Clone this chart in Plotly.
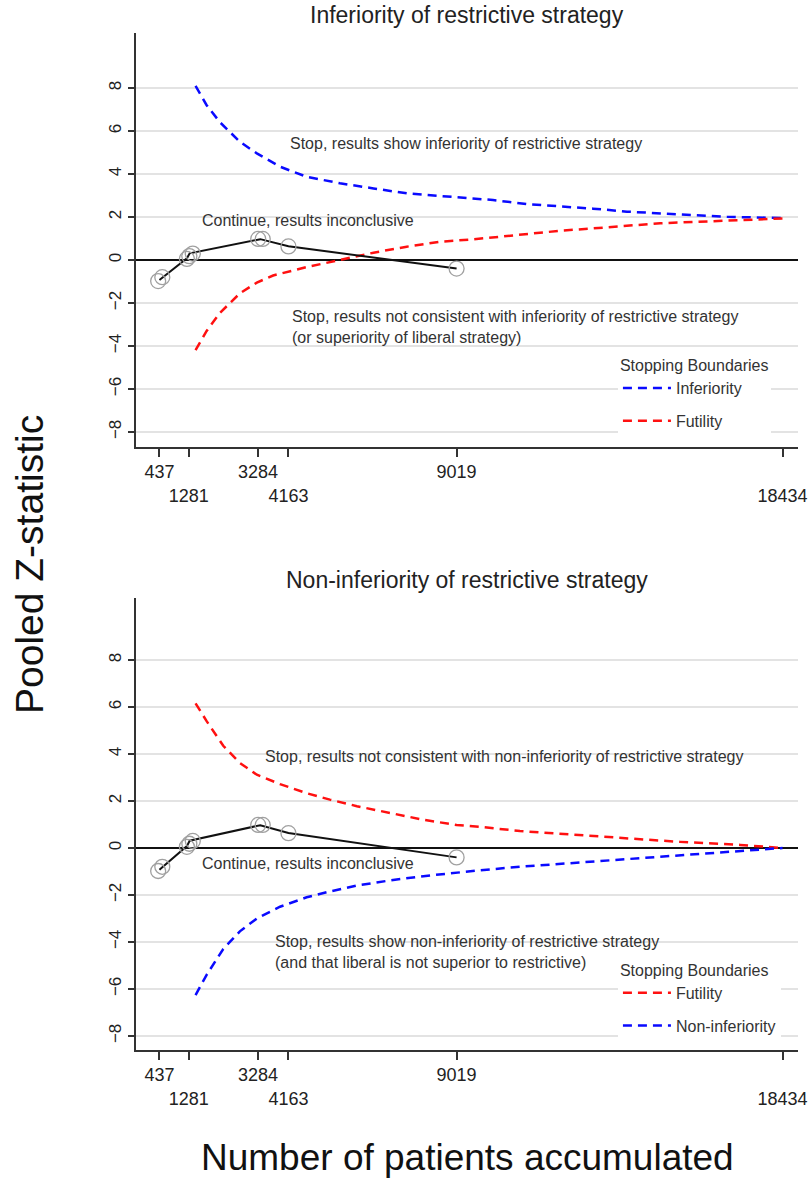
import plotly.graph_objects as go

# ---------------- data ----------------
x_tick_vals = [437, 1281, 3284, 4163, 9019, 18434]
x_tick_text = ["437", "<br>1281", "3284", "<br>4163", "9019", "<br>18434"]
y_tick_vals = [-8, -6, -4, -2, 0, 2, 4, 6, 8]

# observed pooled Z path (line) and plotted markers
obs_line_n = [437, 1230, 1310, 3350, 4163, 9019]
obs_line_z = [-0.93, 0.08, 0.31, 0.97, 0.64, -0.40]
obs_mark_n = [400, 520, 1230, 1300, 1400, 3290, 3420, 4163, 9019]
obs_mark_z = [-0.98, -0.80, 0.05, 0.18, 0.30, 0.98, 0.98, 0.63, -0.40]

# top panel boundaries
inf_n = [1480, 1800, 2190, 2760, 3250, 3920, 4690, 5650, 6620, 7580, 8540, 9490,
         10070, 11050, 12010, 12960, 13940, 14900, 15850, 16830, 18434]
inf_z = [8.1, 7.2, 6.4, 5.5, 4.96, 4.34, 3.87, 3.57, 3.33, 3.1, 2.98, 2.87,
         2.79, 2.6, 2.51, 2.39, 2.25, 2.17, 2.11, 2.01, 1.95]
fut1_n = [1480, 1800, 2190, 2760, 3250, 3720, 4690, 5650, 6620, 7580, 8540, 9490,
          10070, 11050, 12010, 12960, 13940, 14900, 15850, 16830, 18434]
fut1_z = [-4.19, -3.3, -2.45, -1.55, -1.05, -0.72, -0.33, 0.0, 0.34, 0.62, 0.85, 0.96,
          1.05, 1.21, 1.36, 1.47, 1.6, 1.71, 1.77, 1.83, 1.93]

# bottom panel boundaries
fut2_n = [1480, 1800, 2280, 2760, 3250, 3920, 4690, 5360, 6140, 7100, 8060, 9020,
          9690, 10850, 12010, 13740, 15470, 17210, 18434]
fut2_z = [6.16, 5.4, 4.35, 3.62, 3.12, 2.72, 2.33, 2.06, 1.78, 1.48, 1.2, 0.98,
          0.9, 0.72, 0.6, 0.43, 0.26, 0.13, 0.0]
noninf_n = fut2_n
noninf_z = [-6.26, -5.4, -4.3, -3.55, -3.0, -2.5, -2.1, -1.85, -1.6, -1.38, -1.2, -1.05,
            -0.95, -0.8, -0.68, -0.47, -0.3, -0.13, 0.0]

# ---------------- styling ----------------
BLUE = "#0a0aff"
RED = "#ff1010"
TXT = "#333333"
FONT = "Liberation Sans, Arial, sans-serif"
NARROW = "Liberation Sans Narrow, Arial Narrow, Liberation Sans, sans-serif"
DASH = "9px,6px"

fig = go.Figure()

def add_panel(xa, ya, legend, bounds):
    for name, n, z, col in bounds:
        fig.add_trace(go.Scatter(x=n, y=z, mode="lines", name=name,
                                 line=dict(color=col, width=2.5, dash=DASH),
                                 xaxis=xa, yaxis=ya, legend=legend,
                                 legendgroup=legend + name))
    fig.add_trace(go.Scatter(x=obs_line_n, y=obs_line_z, mode="lines",
                             line=dict(color="#111111", width=2),
                             xaxis=xa, yaxis=ya, showlegend=False))
    fig.add_trace(go.Scatter(x=obs_mark_n, y=obs_mark_z, mode="markers",
                             marker=dict(symbol="circle-open", size=15,
                                         color="#a0a0a0", line=dict(width=1.3)),
                             xaxis=xa, yaxis=ya, showlegend=False))

add_panel("x", "y", "legend", [("Inferiority", inf_n, inf_z, BLUE),
                               ("Futility", fut1_n, fut1_z, RED)])
add_panel("x2", "y2", "legend2", [("Futility", fut2_n, fut2_z, RED),
                                  ("Non-inferiority", noninf_n, noninf_z, BLUE)])

xaxis_common = dict(range=[-240, 18880], tickmode="array", tickvals=x_tick_vals,
                    ticktext=x_tick_text, ticks="outside", ticklen=8, tickwidth=1.5,
                    tickcolor="#333333", showline=True, linecolor="#333333", linewidth=1.5,
                    showgrid=False, zeroline=False, tickangle=0, automargin=False,
                    tickfont=dict(family=NARROW, size=18, color="#222222"))
yaxis_common = dict(tickmode="array", tickvals=y_tick_vals, ticks="outside", ticklen=6,
                    tickwidth=1.5, tickcolor="#333333", showline=True, linecolor="#333333",
                    linewidth=1.5, showgrid=True, gridcolor="#e3e3e3", gridwidth=2,
                    zeroline=True, zerolinecolor="#111111", zerolinewidth=2, automargin=False,
                    tickangle=-90, tickfont=dict(family=FONT, size=17, color="#222222"))

leg_common = dict(xanchor="left", yanchor="top", bgcolor="white",
                  font=dict(family=FONT, size=16, color=TXT), tracegroupgap=9,
                  title=dict(text="Stopping Boundaries", font=dict(family=FONT, size=16, color=TXT)),
                  itemwidth=48)

fig.update_layout(
    width=809, height=1187,
    margin=dict(l=136, r=11, t=33, b=137),
    paper_bgcolor="white", plot_bgcolor="white",
    showlegend=True,
    xaxis=dict(domain=[0, 1], anchor="y", **xaxis_common),
    yaxis=dict(domain=[0.5929, 1.0], anchor="x", range=[-8.70, 10.56], **yaxis_common),
    xaxis2=dict(domain=[0, 1], anchor="y2", **xaxis_common),
    yaxis2=dict(domain=[0.0, 0.4444], anchor="x2", range=[-8.6, 10.64], **yaxis_common),
    legend=dict(x=0.728, y=0.688, **leg_common),
    legend2=dict(x=0.728, y=0.0934, **leg_common),
)

ann_font = dict(family=FONT, size=16, color=TXT)
annots = [
    dict(x=4151, y=5.4, xref="x", yref="y",
         text="Stop, results show inferiority of restrictive strategy"),
    dict(x=1610, y=1.86, xref="x", yref="y", text="Continue, results inconclusive"),
    dict(x=4209, y=-3.1, xref="x", yref="y",
         text="Stop, results not consistent with inferiority of restrictive strategy<br>(or superiority of liberal strategy)"),
    dict(x=3420, y=3.89, xref="x2", yref="y2",
         text="Stop, results not consistent with non-inferiority of restrictive strategy"),
    dict(x=1610, y=-0.64, xref="x2", yref="y2", text="Continue, results inconclusive"),
    dict(x=3709, y=-4.44, xref="x2", yref="y2",
         text="Stop, results show non-inferiority of restrictive strategy<br>(and that liberal is not superior to restrictive)"),
]
for a in annots:
    fig.add_annotation(showarrow=False, xanchor="left", yanchor="middle", align="left",
                       font=ann_font, **a)

title_font = dict(family=FONT, size=23, color="#222222")
fig.add_annotation(text="Inferiority of restrictive strategy", xref="paper", yref="paper",
                   x=0.5, y=1.0177, showarrow=False, xanchor="center", yanchor="middle",
                   font=title_font)
fig.add_annotation(text="Non-inferiority of restrictive strategy", xref="paper", yref="paper",
                   x=0.5, y=0.4621, showarrow=False, xanchor="center", yanchor="middle",
                   font=title_font)
fig.add_annotation(text="Pooled Z-statistic", xref="paper", yref="paper",
                   x=-0.160, y=0.477, showarrow=False, textangle=-90,
                   xanchor="center", yanchor="middle",
                   font=dict(family=FONT, size=39, color="#111111"))
fig.add_annotation(text="Number of patients accumulated", xref="paper", yref="paper",
                   x=0.5, y=-0.106, showarrow=False, xanchor="center", yanchor="middle",
                   font=dict(family=FONT, size=37, color="#111111"))

fig.write_html("out.html")
